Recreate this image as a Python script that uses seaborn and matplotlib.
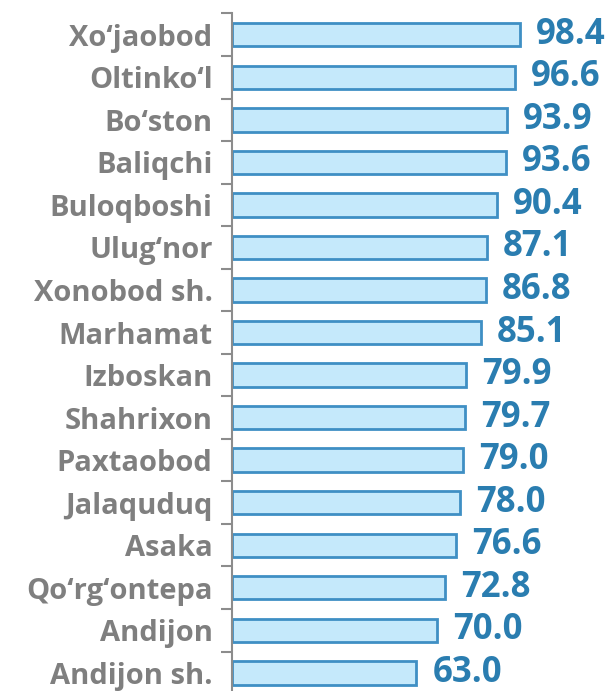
import matplotlib
matplotlib.use("Agg")
import matplotlib.pyplot as plt
import numpy as np
import pandas as pd
import seaborn as sns

districts = ["Xo‘jaobod", "Oltinko‘l", "Bo‘ston", "Baliqchi", "Buloqboshi",
             "Ulug‘nor", "Xonobod sh.", "Marhamat", "Izboskan", "Shahrixon",
             "Paxtaobod", "Jalaquduq", "Asaka", "Qo‘rg‘ontepa", "Andijon",
             "Andijon sh."]
values = [98.4, 96.6, 93.9, 93.6, 90.4, 87.1, 86.8, 85.1, 79.9, 79.7,
          79.0, 78.0, 76.6, 72.8, 70.0, 63.0]

df = pd.DataFrame({"district": districts, "value": values})

sns.set_style("white")
plt.rcParams["font.family"] = ["Open Sans", "DejaVu Sans"]

fig = plt.figure(figsize=(6.11, 6.91), dpi=100)
ax = fig.add_axes([232 / 611, -0.0045, 379 / 611, 0.985])

sns.barplot(data=df, x="value", y="district", orient="h", ax=ax,
            color="#c5e9fb", edgecolor="#3f8fc4", linewidth=2, width=0.55,
            saturation=1)

for i, v in enumerate(values):
    ax.text(v + 5.5, i, f"{v:.1f}", va="center", ha="left", fontsize=25,
            fontweight="bold", color="#2a7db0")

ax.set_xlim(0, 129.5)
ax.set_ylim(len(districts) - 0.5, -0.5)
ax.set_xlabel("")
ax.set_ylabel("")
ax.set_xticks([])
ax.set_yticks(np.arange(-0.5, len(districts)), minor=True)
ax.tick_params(axis="y", which="major", length=0, pad=14, labelsize=21,
               labelcolor="#7f7f7f")
ax.tick_params(axis="y", which="minor", length=8, width=1.5, color="#8c8c8c",
               left=True)
for lbl in ax.get_yticklabels():
    lbl.set_fontweight("bold")

for s in ["top", "right", "bottom"]:
    ax.spines[s].set_visible(False)
ax.spines["left"].set_color("#8c8c8c")
ax.spines["left"].set_linewidth(1.5)

fig.savefig("out.png", dpi=100)
plt.close(fig)
